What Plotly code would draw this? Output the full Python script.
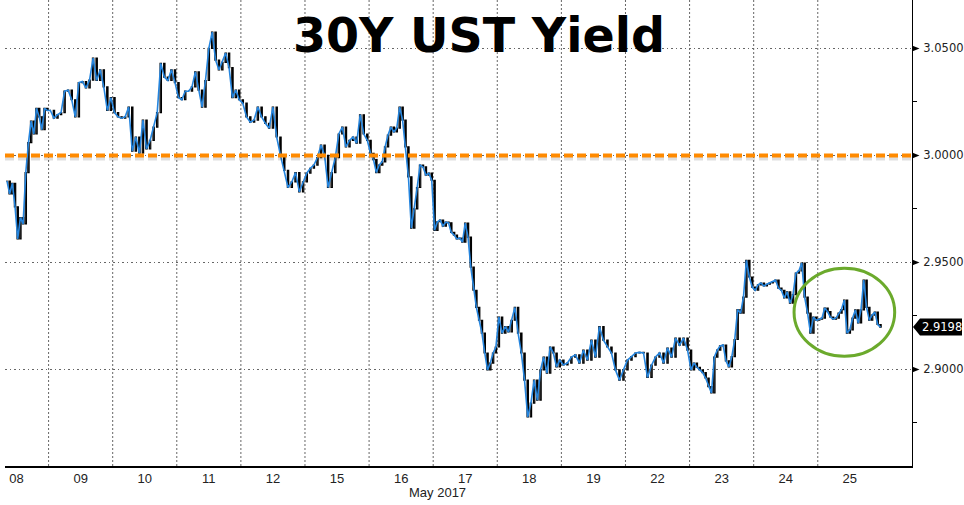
import numpy as np
import plotly.graph_objects as go

# ---------------- data ----------------
day_labels = ["08", "09", "10", "11", "12", "15", "16", "17", "18", "19", "22", "23", "24", "25"]
month_label = "May 2017"
title_text = "30Y UST Yield"

may08 = [2.988, 2.982, 2.987, 2.976, 2.961, 2.971, 2.968, 2.992, 3.006, 3.016, 3.010, 3.022,
         3.018, 3.012, 3.022, 3.021]
may09 = [3.021, 3.0174, 3.019, 3.020, 3.030, 3.0305, 3.026, 3.018, 3.034, 3.0345, 3.0315, 3.0352,
         3.0455, 3.035, 3.040, 3.032, 3.021, 3.027]
may10 = [3.020, 3.018, 3.0174, 3.018, 3.0226, 3.002, 3.0086, 3.001, 3.0165, 3.003, 3.007, 3.0132,
         3.020, 3.043, 3.0366, 3.035, 3.040, 3.034]
may11 = [3.027, 3.026, 3.030, 3.030, 3.032, 3.039, 3.0305, 3.0226, 3.035, 3.050, 3.0576, 3.0445,
         3.040, 3.0435, 3.0478, 3.041, 3.027, 3.0305, 3.026]
may12 = [3.0244, 3.018, 3.0155, 3.0165, 3.0226, 3.018, 3.015, 3.0127, 3.0226, 3.0086, 3.000, 2.993,
         2.985, 2.9876, 2.992, 2.983, 2.9876]
may15 = [2.9917, 2.994, 2.9955, 2.999, 3.0048, 3.000, 2.985, 2.992, 2.999, 3.010, 3.0132, 3.004,
         3.007, 3.0086, 3.0057, 3.019, 3.010, 3.007]
may16 = [3.001, 2.998, 2.992, 2.9955, 2.997, 3.004, 3.0095, 3.0132, 3.011, 3.0127, 3.0226, 3.0165,
         3.004, 2.990, 2.966, 2.975, 2.985, 2.9955, 2.9946, 2.9908, 2.9917, 2.9884]
may17 = [2.965, 2.969, 2.9698, 2.967, 2.9688, 2.9685, 2.964, 2.9628, 2.961, 2.9614, 2.9595, 2.9684,
         2.9618, 2.9478, 2.937, 2.929, 2.923, 2.917, 2.9077, 2.8998, 2.903, 2.9077, 2.9105]
may18 = [2.9245, 2.917, 2.920, 2.9175, 2.923, 2.929, 2.917, 2.9077, 2.895, 2.8778, 2.8843, 2.895,
         2.8857, 2.8998, 2.9058, 2.8983, 2.9105, 2.9077, 2.9012, 2.9044]
may19 = [2.9021, 2.903, 2.9058, 2.9068, 2.903, 2.909, 2.9044, 2.9137, 2.9058, 2.920, 2.9137, 2.9105,
         2.9077, 2.8998, 2.895, 2.8998]
may22 = [2.9044, 2.906, 2.9077, 2.908, 2.9077, 2.8963, 2.902, 2.9058, 2.9077, 2.903, 2.910, 2.9058,
         2.9146, 2.9114, 2.9146, 2.909]
may23 = [2.8998, 2.903, 2.901, 2.8998, 2.8985, 2.896, 2.892, 2.889, 2.9058, 2.909, 2.911, 2.9114,
         2.904, 2.9012, 2.906, 2.914, 2.928, 2.9263, 2.9338, 2.951, 2.9432, 2.9385]
may24 = [2.937, 2.9395, 2.9404, 2.939, 2.9398, 2.9404, 2.941, 2.9418, 2.938, 2.937, 2.9334, 2.9362,
         2.931, 2.935, 2.945, 2.946, 2.9497, 2.9338, 2.9263, 2.917, 2.9245, 2.923]
may25 = [2.9235, 2.924, 2.9287, 2.927, 2.9245, 2.9235, 2.924, 2.9263, 2.928, 2.9324, 2.917, 2.9185,
         2.924, 2.9278, 2.9217, 2.9278, 2.9418, 2.929, 2.923, 2.9254, 2.9268, 2.921, 2.9198]

sessions = [may08, may09, may10, may11, may12, may15, may16, may17, may18, may19,
            may22, may23, may24, may25]

ref_level = 3.0
y_ticks = [2.90, 2.95, 3.00, 3.05]

# ---------------- layout constants ----------------
W, H = 964, 505
ML, MR, MT, MB = 5, 52, 0, 39
PW, PH = W - ML - MR, H - MT - MB
X_MIN, X_MAX = -0.18, 13.97
Y_MIN, Y_MAX = 2.8549, 3.0726
FIRST_START = -0.17

xs, closes = [], []
for k, vals in enumerate(sessions):
    start = FIRST_START if k == 0 else k - 0.5
    end = k + 0.5
    step = (end - start) / len(vals)
    for i, v in enumerate(vals):
        xs.append(start + (i + 0.5) * step)
        closes.append(v)
opens = [closes[0]] + closes[:-1]
highs = [max(o, c) for o, c in zip(opens, closes)]
lows = [min(o, c) for o, c in zip(opens, closes)]

fig = go.Figure()
fig.add_trace(go.Candlestick(
    x=xs, open=opens, high=highs, low=lows, close=closes,
    increasing=dict(line=dict(color="black", width=1.2), fillcolor="white"),
    decreasing=dict(line=dict(color="black", width=1.2), fillcolor="black"),
    whiskerwidth=0, showlegend=False, hoverinfo="skip",
))
fig.add_trace(go.Scatter(
    x=xs, y=closes, mode="lines",
    line=dict(color="#2585DE", width=1.6),
    showlegend=False, hoverinfo="skip",
))

shapes = []
# vertical day separators
for k in range(len(day_labels) - 1):
    shapes.append(dict(type="line", xref="x", yref="paper", x0=k + 0.5, x1=k + 0.5, y0=0, y1=1,
                       line=dict(color="#666666", width=1, dash="2px,2px"), layer="below"))
# reference level with soft shadow
dy = (Y_MAX - Y_MIN) / PH
shapes.append(dict(type="line", xref="paper", yref="y", x0=0, x1=1,
                   y0=ref_level - 2.5 * dy, y1=ref_level - 2.5 * dy,
                   line=dict(color="rgba(0,0,0,0.13)", width=5, dash="9px,4px"), layer="above"))
shapes.append(dict(type="line", xref="paper", yref="y", x0=0, x1=1, y0=ref_level, y1=ref_level,
                   line=dict(color="#FF8A00", width=4, dash="9px,4px"), layer="above"))

def to_paper_y(v):
    return (v - Y_MIN) / (Y_MAX - Y_MIN)

px_x = 1.0 / PW
px_y = 1.0 / PH
# right-pointing markers at labelled ticks
for v in y_ticks:
    py = to_paper_y(v)
    shapes.append(dict(type="path", xref="paper", yref="paper",
                       path=f"M 1 {py + 3 * px_y} L {1 + 7.5 * px_x} {py} L 1 {py - 3 * px_y} Z",
                       fillcolor="black", line=dict(width=0)))
# last-value label box
last_val = closes[-1]
py = to_paper_y(last_val)
shapes.append(dict(type="path", xref="paper", yref="paper",
                   path=(f"M {1 + 1 * px_x} {py} L {1 + 8 * px_x} {py + 8.5 * px_y} "
                         f"L {1 + 50 * px_x} {py + 8.5 * px_y} L {1 + 50 * px_x} {py - 8.5 * px_y} "
                         f"L {1 + 8 * px_x} {py - 8.5 * px_y} Z"),
                   fillcolor="black", line=dict(width=0)))
# highlight ellipse
shapes.append(dict(type="circle", xref="x", yref="y", x0=12.13, x1=13.70, y0=2.9062, y1=2.9473,
                   line=dict(color="#6BAA2C", width=3)))

annotations = [
    dict(text=f"<b>{title_text}</b>", xref="paper", yref="paper", x=(479 - ML) / PW, y=1,
         yshift=-35, xanchor="center", yanchor="middle", showarrow=False,
         font=dict(family="DejaVu Sans", size=47.5, color="black")),
    dict(text=month_label, xref="paper", yref="paper", x=(437 - ML) / PW, y=0, yshift=-26,
         xanchor="center", yanchor="middle", showarrow=False,
         font=dict(family="Liberation Sans", size=13, color="#222222")),
    dict(text=f"{last_val:.4f}", xref="paper", yref="y", x=1, y=last_val, xshift=8,
         xanchor="left", yanchor="middle", showarrow=False,
         font=dict(family="DejaVu Sans", size=11.5, color="white")),
]

fig.update_layout(
    width=W, height=H,
    margin=dict(l=ML, r=MR, t=MT, b=MB, pad=0, autoexpand=False),
    paper_bgcolor="white", plot_bgcolor="white",
    shapes=shapes, annotations=annotations,
    showlegend=False,
    xaxis=dict(range=[X_MIN, X_MAX], rangeslider=dict(visible=False),
               tickvals=list(range(len(day_labels))), ticktext=day_labels,
               ticks="", showgrid=False, zeroline=False, automargin=False,
               showline=True, linecolor="black", linewidth=1.5,
               tickfont=dict(family="Liberation Sans", size=13, color="#222222")),
    yaxis=dict(range=[Y_MIN, Y_MAX], side="right", automargin=False,
               tickvals=y_ticks, ticktext=[f"{v:.4f}" for v in y_ticks],
               ticks="", ticklabelstandoff=8,
               showgrid=True, gridcolor="#666666", gridwidth=1, griddash="1.5px,3px",
               zeroline=False, showline=True, linecolor="black", linewidth=1,
               minor=dict(tick0=2.875, dtick=0.025, ticks="outside", ticklen=4,
                          tickcolor="black", showgrid=False),
               tickfont=dict(family="DejaVu Sans", size=11.5, color="#222222")),
)

fig.write_html(
    "out.html",
    config={"displayModeBar": False},
    post_script="document.body.style.margin='0';document.body.style.overflow='hidden';",
)
